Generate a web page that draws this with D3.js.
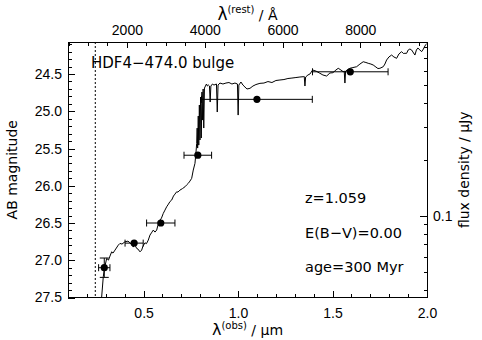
<!DOCTYPE html>
<html>
<head>
<meta charset="utf-8">
<script src="https://cdn.jsdelivr.net/npm/d3@7"></script>
<style>
  html, body { margin: 0; padding: 0; background: #fff; }
  svg { display: block; font-family: "DejaVu Sans", sans-serif; }
  .tick text { font-size: 14px; fill: #000; }
  .tick line { stroke: #000; stroke-width: 1; }
</style>
</head>
<body>
<svg id="chart" width="482" height="340"></svg>
<script>
// Model spectrum: observed wavelength (µm) and AB magnitude
const specWave = [
  0.2760, 0.2868, 0.2931, 0.3048, 0.3143, 0.3222, 0.3312, 0.3381, 0.3487, 0.3661,
  0.3751, 0.3857, 0.4016, 0.4175, 0.4280, 0.4386, 0.4455, 0.4519, 0.4635, 0.4704,
  0.4810, 0.4899, 0.4968, 0.5074, 0.5153, 0.5249, 0.5339, 0.5444, 0.5513, 0.5603,
  0.5693, 0.5762, 0.5868, 0.5947, 0.6042, 0.6132, 0.6222, 0.6317, 0.6397, 0.6487,
  0.6582, 0.6661, 0.6751, 0.6820, 0.6926, 0.7058, 0.7190, 0.7270, 0.7365, 0.7455,
  0.7545, 0.7630, 0.7720, 0.7783, 0.7810,
  0.7836, 0.7862, 0.7894, 0.7921, 0.7952, 0.7984, 0.8016, 0.8053, 0.8090, 0.8122,
  0.8153, 0.8185, 0.8222, 0.8275, 0.8328, 0.8381, 0.8434, 0.8487, 0.8524, 0.8561,
  0.8646, 0.8725, 0.8857, 0.8899, 0.8942, 0.9042, 0.9201, 0.9360, 0.9519, 0.9677,
  0.9836, 0.9968, 1.0005, 1.0042, 1.0153, 1.0259, 1.0365, 1.0471, 1.0630, 1.0788,
  1.0947, 1.1159, 1.1370, 1.1582, 1.1794, 1.2005, 1.2217, 1.2429, 1.2640, 1.2852,
  1.3063, 1.3275, 1.3450, 1.3503, 1.3540, 1.3577, 1.3698, 1.3804, 1.3947, 1.4122,
  1.4333, 1.4492, 1.4688, 1.4862, 1.5021, 1.5180, 1.5302, 1.5444, 1.5566, 1.5619,
  1.5656, 1.5693, 1.5815, 1.5921, 1.6079, 1.6275, 1.6450, 1.6624, 1.6767, 1.6889,
  1.7032, 1.7153, 1.7296, 1.7402, 1.7508, 1.7683, 1.7772, 1.7862, 1.7984, 1.8127,
  1.8249, 1.8392, 1.8513, 1.8656, 1.8751, 1.8831, 1.8921, 1.9005, 1.9095, 1.9185,
  1.9254, 1.9360, 1.9439, 1.9519, 1.9624, 1.9714, 1.9810, 1.9889, 1.9942, 1.9995
];
const specMag = [
  27.560, 27.220, 27.106, 26.975, 26.998, 26.944, 26.887, 26.904, 26.864, 26.797,
  26.774, 26.783, 26.752, 26.743, 26.766, 26.797, 26.823, 26.783, 26.841, 26.850,
  26.887, 26.864, 26.810, 26.766, 26.777, 26.729, 26.662, 26.622, 26.595, 26.622,
  26.595, 26.528, 26.461, 26.434, 26.371, 26.327, 26.282, 26.246, 26.212, 26.192,
  26.138, 26.112, 26.081, 26.085, 26.058, 26.038, 26.014, 25.991, 25.968, 25.937,
  25.901, 25.789, 25.699, 25.521, 25.431,
  25.226, 25.494, 25.064, 25.454, 24.916, 25.386, 24.809, 25.359, 24.742, 25.118,
  24.701, 25.225, 24.688, 24.661, 24.634, 24.661, 24.648, 24.661, 24.876, 24.661,
  24.634, 24.648, 24.634, 25.010, 24.648, 24.621, 24.634, 24.621, 24.614, 24.634,
  24.621, 24.634, 25.051, 24.648, 24.607, 24.648, 24.674, 24.701, 24.692, 24.661,
  24.641, 24.625, 24.621, 24.601, 24.614, 24.587, 24.580, 24.574, 24.560, 24.554,
  24.547, 24.540, 24.536, 24.533, 24.661, 24.540, 24.513, 24.500, 24.446, 24.460,
  24.490, 24.513, 24.527, 24.486, 24.482, 24.446, 24.423, 24.446, 24.469, 24.460,
  24.621, 24.460, 24.439, 24.423, 24.413, 24.402, 24.366, 24.335, 24.345, 24.356,
  24.366, 24.379, 24.406, 24.426, 24.423, 24.402, 24.366, 24.312, 24.271, 24.245,
  24.271, 24.289, 24.231, 24.200, 24.224, 24.222, 24.222, 24.177, 24.164, 24.177,
  24.204, 24.245, 24.177, 24.151, 24.177, 24.200, 24.164, 24.124, 24.104, 24.090
];

// Broad-band photometry
const photWave    = [0.292, 0.450, 0.591, 0.787, 1.100, 1.594];
const photWaveErr = [0.030, 0.048, 0.075, 0.073, 0.293, 0.200];
const photMag     = [27.10, 26.77, 26.50, 25.59, 24.84, 24.47];
const photMagErr  = [0.13, 0.00, 0.00, 0.00, 0.00, 0.00];

// Ticks
const obsMajor  = [0.5, 1.0, 1.5, 2.0];
const obsMinor  = [0.2, 0.3, 0.4, 0.6, 0.7, 0.8, 0.9, 1.1, 1.2, 1.3, 1.4, 1.6, 1.7, 1.8, 1.9];
const restMajor = [2000, 4000, 6000, 8000];
const restMinor = [500, 1000, 1500, 2500, 3000, 3500, 4500, 5000, 5500, 6500, 7000, 7500, 8500, 9000, 9500];
const magMajor  = [24.5, 25.0, 25.5, 26.0, 26.5, 27.0, 27.5];
const magMinor  = [24.1, 24.2, 24.3, 24.4, 24.6, 24.7, 24.8, 24.9, 25.1, 25.2, 25.3, 25.4,
                   25.6, 25.7, 25.8, 25.9, 26.1, 26.2, 26.3, 26.4, 26.6, 26.7, 26.8, 26.9,
                   27.1, 27.2, 27.3, 27.4];
const fluxMajor = [0.1];
const fluxMinor = [0.04, 0.05, 0.06, 0.07, 0.08, 0.09, 0.2, 0.3, 0.4, 0.5, 0.6, 0.7, 0.8];

const redshift = 1.059;
const dottedWave = 0.2444;
const annotations = ["z=1.059", "E(B\u2212V)=0.00", "age=300 Myr"];
const objectName = "HDF4\u2212474.0 bulge";

const L = 68, R = 427, T = 42, B = 297.5;
const magTop = 24.07, magBottom = 27.5;

const svg = d3.select("#chart");

const x = d3.scaleLinear().domain([0.1, 2.0]).range([L, R]);
const y = d3.scaleLinear().domain([magTop, magBottom]).range([T, B]);
// rest-frame wavelength in Angstrom along the top
const xRest = d3.scaleLinear()
  .domain([0.1e4 / (1 + redshift), 2.0e4 / (1 + redshift)]).range([L, R]);
// flux density in µJy: m_AB = 23.9 - 2.5 log10(f)
const magToFlux = m => Math.pow(10, (23.9 - m) / 2.5);
const yFlux = d3.scaleLog().domain([magToFlux(magTop), magToFlux(magBottom)]).range([T, B]);

function drawAxis(axis, tx, ty) {
  const g = svg.append("g").attr("transform", `translate(${tx},${ty})`).call(axis);
  g.select(".domain").remove();
  g.selectAll(".tick line").attr("shape-rendering", "crispEdges");
  return g;
}

// bottom axis (observed wavelength)
drawAxis(d3.axisBottom(x).tickValues(obsMajor).tickSizeInner(-7).tickSizeOuter(0)
  .tickPadding(10.5).tickFormat(d3.format(".1f")), 0, B);
drawAxis(d3.axisBottom(x).tickValues(obsMinor).tickSizeInner(-4).tickSizeOuter(0)
  .tickFormat(""), 0, B);

// top axis (rest-frame wavelength)
drawAxis(d3.axisTop(xRest).tickValues(restMajor).tickSizeInner(-6).tickSizeOuter(0)
  .tickPadding(7).tickFormat(d3.format("d")), 0, T);
drawAxis(d3.axisTop(xRest).tickValues(restMinor).tickSizeInner(-4).tickSizeOuter(0)
  .tickFormat(""), 0, T);

// left axis (AB magnitude)
drawAxis(d3.axisLeft(y).tickValues(magMajor).tickSizeInner(-7).tickSizeOuter(0)
  .tickPadding(6).tickFormat(d3.format(".1f")), L, 0);
drawAxis(d3.axisLeft(y).tickValues(magMinor).tickSizeInner(-3.5).tickSizeOuter(0)
  .tickFormat(""), L, 0);

// right axis (flux density)
drawAxis(d3.axisRight(yFlux).tickValues(fluxMajor).tickSizeInner(-7).tickSizeOuter(0)
  .tickPadding(6).tickFormat(d => d), R, 0);
drawAxis(d3.axisRight(yFlux).tickValues(fluxMinor).tickSizeInner(-3.5).tickSizeOuter(0)
  .tickFormat(""), R, 0);

// frame
svg.append("rect")
  .attr("x", L).attr("y", T).attr("width", R - L).attr("height", B - T)
  .attr("fill", "none").attr("stroke", "#000").attr("stroke-width", 1)
  .attr("shape-rendering", "crispEdges");

svg.append("clipPath").attr("id", "plot-clip")
  .append("rect").attr("x", L).attr("y", T).attr("width", R - L).attr("height", B - T);

const plot = svg.append("g").attr("clip-path", "url(#plot-clip)");

// dotted marker line
plot.append("line")
  .attr("x1", x(dottedWave)).attr("x2", x(dottedWave))
  .attr("y1", T).attr("y2", B)
  .attr("stroke", "#000").attr("stroke-width", 1).attr("stroke-dasharray", "2,2");

// model spectrum
const spec = specWave.map((w, i) => [w, specMag[i]]);
plot.append("path")
  .datum(spec)
  .attr("d", d3.line().x(d => x(d[0])).y(d => y(d[1])))
  .attr("fill", "none").attr("stroke", "#000").attr("stroke-width", 1)
  .attr("stroke-linejoin", "round");

// photometry with error bars
const phot = photWave.map((w, i) => ({ w, we: photWaveErr[i], m: photMag[i], me: photMagErr[i] }));
const cap = 3.5;
const pg = plot.append("g").attr("stroke", "#000").attr("stroke-width", 1);
phot.forEach(p => {
  const cx = x(p.w), cy = y(p.m);
  const x0 = x(p.w - p.we), x1 = x(p.w + p.we);
  pg.append("line").attr("x1", x0).attr("x2", x1).attr("y1", cy).attr("y2", cy);
  pg.append("line").attr("x1", x0).attr("x2", x0).attr("y1", cy - cap).attr("y2", cy + cap);
  pg.append("line").attr("x1", x1).attr("x2", x1).attr("y1", cy - cap).attr("y2", cy + cap);
  if (p.me > 0) {
    const y0 = y(p.m - p.me), y1 = y(p.m + p.me);
    pg.append("line").attr("x1", cx).attr("x2", cx).attr("y1", y0).attr("y2", y1);
    pg.append("line").attr("x1", cx - cap - 1).attr("x2", cx + cap + 1).attr("y1", y0).attr("y2", y0);
    pg.append("line").attr("x1", cx - cap - 1).attr("x2", cx + cap + 1).attr("y1", y1).attr("y2", y1);
  }
  plot.append("circle").attr("cx", cx).attr("cy", cy).attr("r", 3.6).attr("fill", "#000");
});

// labels inside the plot
svg.append("text").attr("x", 91).attr("y", 68)
  .attr("font-size", 15).text(objectName);
const annY = [203, 238, 272];
annotations.forEach((t, i) => {
  svg.append("text").attr("x", 305).attr("y", annY[i]).attr("font-size", 14.5).text(t);
});

// axis titles
const cxPlot = (L + R) / 2;
const bottomTitle = svg.append("text").attr("x", cxPlot).attr("y", 335)
  .attr("text-anchor", "middle").attr("font-size", 14);
bottomTitle.append("tspan").attr("font-size", 16).text("\u03bb");
bottomTitle.append("tspan").attr("font-size", 10).attr("dy", -6).text("(obs)");
bottomTitle.append("tspan").attr("dy", 6).text(" / \u00b5m");

const topTitle = svg.append("text").attr("x", cxPlot).attr("y", 20)
  .attr("text-anchor", "middle").attr("font-size", 14);
topTitle.append("tspan").attr("font-size", 17).text("\u03bb");
topTitle.append("tspan").attr("font-size", 10).attr("dy", -7).text("(rest)");
topTitle.append("tspan").attr("dy", 7).text(" / \u00c5");

const cyPlot = (T + B) / 2;
svg.append("text")
  .attr("transform", `translate(17,${cyPlot}) rotate(-90)`)
  .attr("text-anchor", "middle").attr("font-size", 14).text("AB magnitude");
svg.append("text")
  .attr("transform", `translate(468.5,${cyPlot}) rotate(-90)`)
  .attr("text-anchor", "middle").attr("font-size", 14).text("flux density / \u00b5Jy");
</script>
</body>
</html>
